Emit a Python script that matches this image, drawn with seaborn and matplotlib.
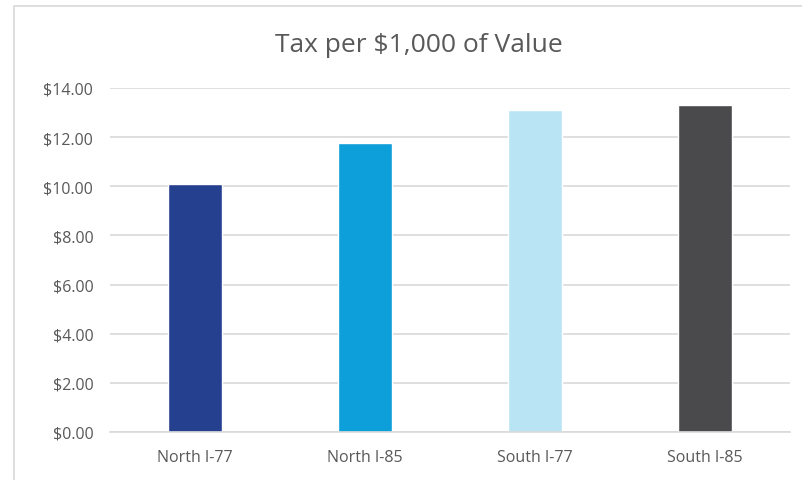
import matplotlib
matplotlib.use("Agg")
import matplotlib.pyplot as plt
import seaborn as sns
import pandas as pd
from matplotlib.patches import Rectangle

# data
regions = ["North I-77", "North I-85", "South I-77", "South I-85"]
tax = [10.08, 11.78, 13.09, 13.29]
colors = ["#25408F", "#0D9FDA", "#B8E4F4", "#4A4A4C"]
yticks = [0, 2, 4, 6, 8, 10, 12, 14]

df = pd.DataFrame({"Region": regions, "Tax": tax})

sns.set_theme(style="white")
plt.rcParams["font.family"] = ["Open Sans", "DejaVu Sans"]

fig = plt.figure(figsize=(8.03, 4.81), dpi=100)
ax = fig.add_axes([0.137, 0.0998, 0.847, 0.7152])

sns.barplot(data=df, x="Region", y="Tax", hue="Region", palette=colors,
            width=0.32, legend=False, ax=ax, saturation=1)

ax.set_ylim(0, 14)
ax.set_xlim(-0.5, 3.5)
ax.set_yticks(yticks)
ax.set_yticklabels([f"${v:.2f}" for v in yticks])
ax.grid(axis="y", color="#D9D9D9", linewidth=1.2)
ax.set_axisbelow(True)
for s in ["top", "right", "left"]:
    ax.spines[s].set_visible(False)
ax.spines["bottom"].set_color("#D9D9D9")
ax.spines["bottom"].set_linewidth(1.2)
ax.tick_params(axis="both", length=0, colors="#595959", labelsize=11.5)
ax.tick_params(axis="x", pad=12)
ax.tick_params(axis="y", pad=12)
ax.set_xlabel("")
ax.set_ylabel("")

fig.text(0.522, 0.905, "Tax per $1,000 of Value", ha="center", va="center",
         fontsize=19, color="#595959")

# chart area border
fig.patches.append(Rectangle((14 / 803, -0.01), 1.0, 1 - 7 / 481 + 0.01,
                             transform=fig.transFigure, fill=False,
                             edgecolor="#D9D9D9", linewidth=1.2))

fig.savefig("out.png", dpi=100)
